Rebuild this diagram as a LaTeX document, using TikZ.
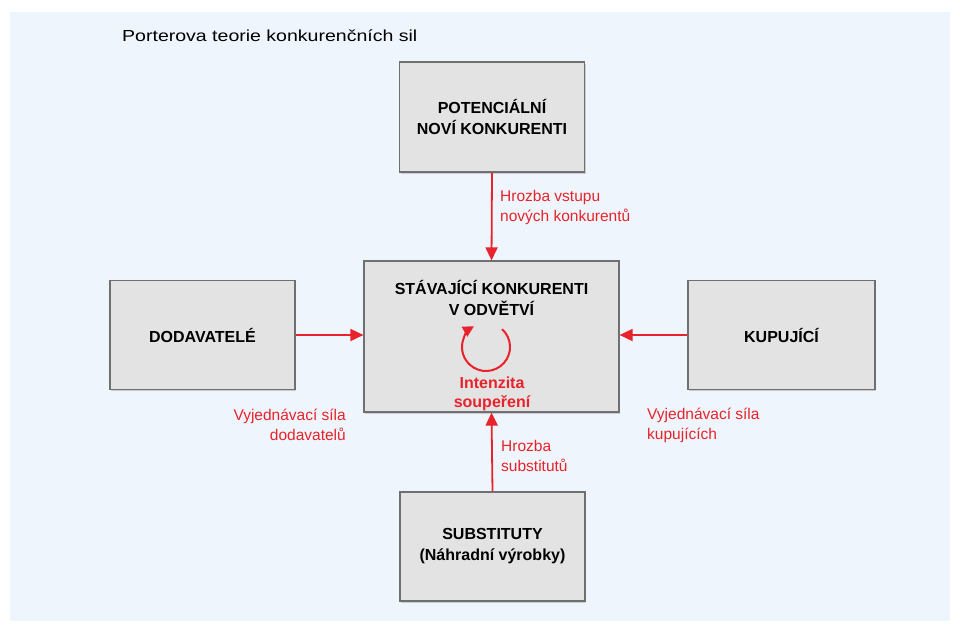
\documentclass[tikz,border=0pt]{standalone}
\usepackage{fontspec}
\setmainfont{Liberation Sans}
\usepackage{tikz}
\usetikzlibrary{arrows.meta}
\usetikzlibrary{positioning}
\usetikzlibrary{shadows}
\definecolor{forcered}{HTML}{E8232B}
\definecolor{boxgray}{HTML}{E3E3E3}
\definecolor{edgegray}{HTML}{707070}
\definecolor{panelblue}{HTML}{EFF5FC}
\tikzset{
  boxtext/.style={align=center, font=\fontsize{16}{21}\selectfont\bfseries, inner sep=0pt},
  forcebox/.style={boxtext, draw=edgegray, line width=1.2pt, fill=boxgray,
    drop shadow={shadow xshift=1pt, shadow yshift=-1.5pt, fill=gray!70}},
  forcearrow/.style={draw=forcered, line width=1.8pt, -{Triangle[length=13pt,width=12pt]}},
  forcelabel/.style={text=forcered, font=\fontsize{15.5}{20}\selectfont, inner sep=0pt}
}

\begin{document}
\begin{tikzpicture}[x=1pt,y=1pt]
        \useasboundingbox (0,0) rectangle (960,-626);
        \fill[panelblue] (10,-12) rectangle (950,-621);
        \node[anchor=west, inner sep=0pt, font=\fontsize{16}{18}\selectfont] (title) at (122,-36) {\scalebox{1.22}[1]{Porterova teorie konkurenčních sil}};
        % the five forces
        \node[forcebox, minimum width=185pt, minimum height=110pt] (pot) at (492,-117) {POTENCIÁLNÍ\\NOVÍ KONKURENTI};
        \node[forcebox, minimum width=255pt, minimum height=151pt] (stav) at (491.5,-336.5) {};
        \node[forcebox, minimum width=185pt, minimum height=109pt] (dod) at (202.5,-335) {DODAVATELÉ};
        \node[forcebox, minimum width=187pt, minimum height=109pt] (kup) at (781.5,-335) {KUPUJÍCÍ};
        \node[forcebox, minimum width=185pt, minimum height=109pt] (sub) at (492.5,-546.5) {SUBSTITUTY\\(Náhradní výrobky)};
        \node[boxtext] (stavtxt) at (491.5,-297.5) {STÁVAJÍCÍ KONKURENTI\\V ODVĚTVÍ};
        % arrows
        \draw[forcearrow] (pot.south) -- (stav.north);
        \draw[forcearrow] (sub.north) -- (stav.south);
        \draw[forcearrow] (dod.east) -- (dod.east -| stav.west);
        \draw[forcearrow] (kup.west) -- (kup.west -| stav.east);
        \draw[draw=forcered, line width=2pt, -{Triangle[length=11pt,width=11pt]}] (486,-347) ++(48:24) arc[start angle=48, end angle=-240, radius=24];
        % labels
        \node[forcelabel, font=\fontsize{16}{19}\selectfont\bfseries, align=center] (intenz) at (492,-394) {Intenzita\\soupeření};
        \node[forcelabel, anchor=west, align=left] (lblpot) at (500,-207) {Hrozba vstupu\\nových konkurentů};
        \node[forcelabel, anchor=east, align=right] (lbldod) at (346,-425) {Vyjednávací síla\\dodavatelů};
        \node[forcelabel, anchor=west, align=left] (lblkup) at (647,-425) {Vyjednávací síla\\kupujících};
        \node[forcelabel, anchor=west, align=left] (lblsub) at (501,-456) {Hrozba\\substitutů};
    \end{tikzpicture}
\end{document}
